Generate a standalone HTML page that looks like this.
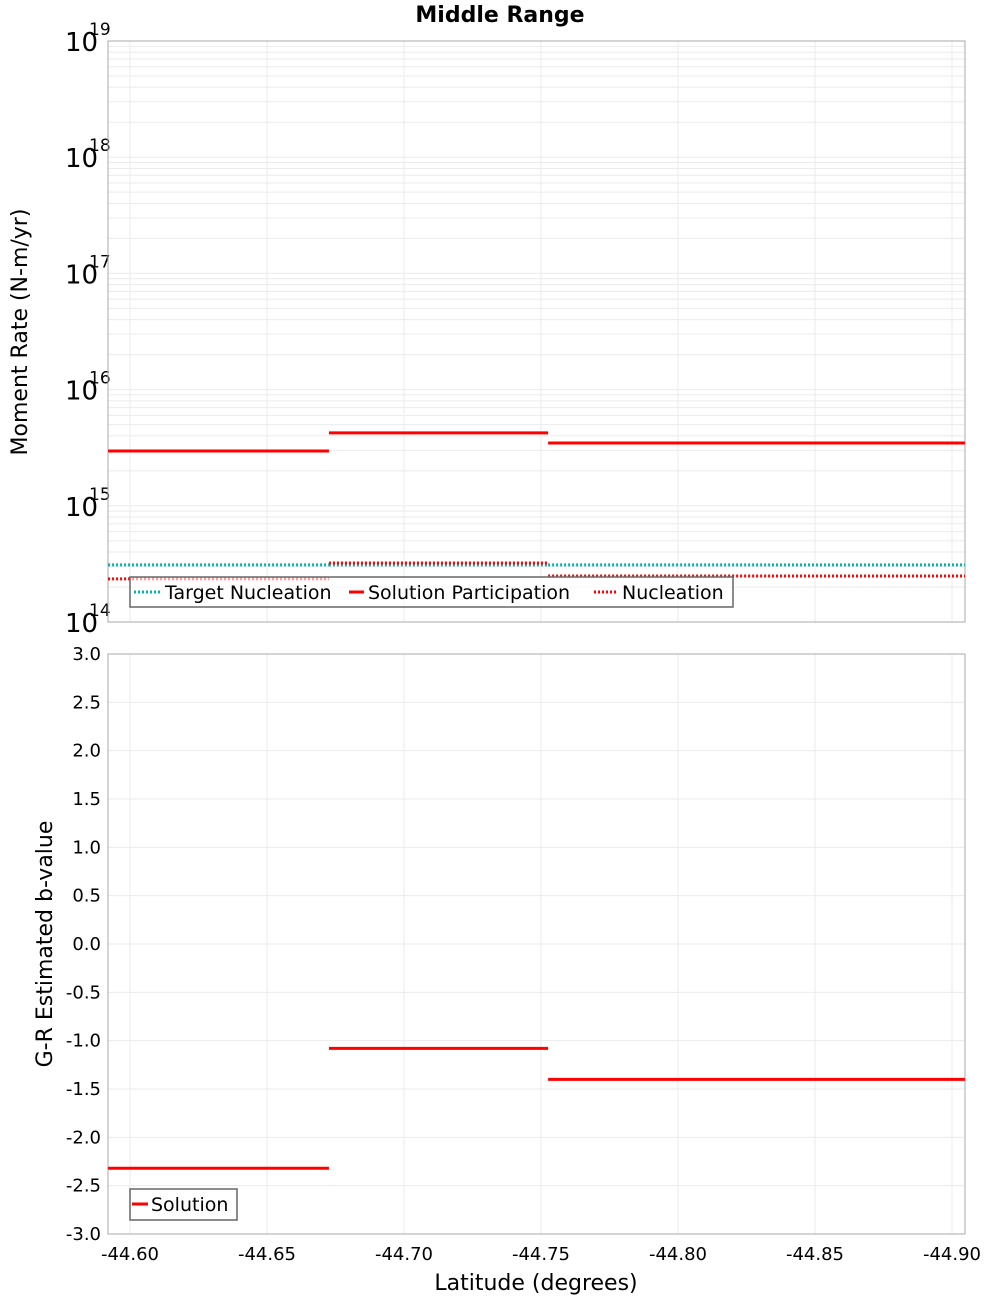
<!DOCTYPE html>
<html><head><meta charset="utf-8"><style>
html,body{margin:0;padding:0;background:#fff;}
svg{display:block;font-family:"DejaVu Sans","Liberation Sans",sans-serif;}
</style></head><body>
<svg id="chart" width="1000" height="1300" xmlns="http://www.w3.org/2000/svg">
<text x="500" y="22" text-anchor="middle" font-size="22" font-weight="bold">Middle Range</text>
<g id="topg"></g>
<g id="botg"></g>
<text transform="translate(27,332) rotate(-90)" text-anchor="middle" font-size="22">Moment Rate (N-m/yr)</text>
<text transform="translate(52,944) rotate(-90)" text-anchor="middle" font-size="22">G-R Estimated b-value</text>
<text x="536" y="1290" text-anchor="middle" font-size="22">Latitude (degrees)</text>
</svg>
<script>
const segEdges = [-44.592, -44.6726, -44.7526, -44.8343, -44.9047];
const participation = [2.96e15, 4.24e15, 3.47e15, 3.47e15];
const targetNucleation = [3.1e14, 3.1e14, 3.1e14, 3.1e14];
const nucleation = [2.35e14, 3.22e14, 2.49e14, 2.49e14];
const bValues = [-2.32, -1.08, -1.40, -1.40];
const xTicks = [-44.60, -44.65, -44.70, -44.75, -44.80, -44.85, -44.90];
const bTicks = [3.0,2.5,2.0,1.5,1.0,0.5,0.0,-0.5,-1.0,-1.5,-2.0,-2.5,-3.0];
const logTicks = [14,15,16,17,18,19];

const NS="http://www.w3.org/2000/svg";
const L=108,R=965;
const xS=v=>130+(v-(-44.60))/(-0.05)*137;
const yTop=v=>622-(Math.log10(v)-14)*116.2;
const yBot=v=>654+(3-v)/6*580;
function mk(p,tag,attrs){const e=document.createElementNS(NS,tag);for(const k in attrs)e.setAttribute(k,attrs[k]);p.appendChild(e);return e;}
const topG=document.getElementById('topg'), botG=document.getElementById('botg');

for(let d=14;d<19;d++)for(let m=1;m<10;m++){const y=yTop(m*Math.pow(10,d));
 const g=mk(topG,'line',{x1:L,x2:R,y1:y,y2:y,stroke:'#ebebeb','stroke-width':1});
 
 }
for(const t of xTicks){const x=xS(t);
 const g=mk(topG,'line',{x1:x,x2:x,y1:41,y2:622,stroke:'#ebebeb'});
 
 
 const g2=mk(botG,'line',{x1:x,x2:x,y1:654,y2:1234,stroke:'#ebebeb'});
 
 
 const tl=mk(botG,'text',{x:x,y:1260,'text-anchor':'middle','font-size':18});
 tl.textContent=t.toFixed(2);
 
 }
for(const t of bTicks){const y=yBot(t);
 const g=mk(botG,'line',{x1:L,x2:R,y1:y,y2:y,stroke:'#ebebeb'});
 
 
 const tl=mk(botG,'text',{x:101,y:y+6,'text-anchor':'end','font-size':18});
 tl.textContent=t.toFixed(1);
 
 }
for(const d of logTicks){const y=yTop(Math.pow(10,d));
 const tl=mk(topG,'text',{x:65,y:y+10,'font-size':26});
 tl.textContent='10';
 
 
 const ex=mk(topG,'text',{x:89,y:y-6,'font-size':17});
 ex.textContent=String(d);
 
 }
const f1=mk(topG,'rect',{x:L,y:41,width:R-L,height:581,fill:'none',stroke:'#a8a8a8'});


const f2=mk(botG,'rect',{x:L,y:654,width:R-L,height:580,fill:'none',stroke:'#a8a8a8'});



for(let i=0;i<4;i++){const x1=xS(segEdges[i]),x2=xS(segEdges[i+1]);
 const a=mk(topG,'line',{x1:x1,x2:x2,y1:yTop(targetNucleation[i]),y2:yTop(targetNucleation[i]),stroke:'#00b4b4','stroke-width':3,'stroke-dasharray':'2,2'});
 
 
 const b=mk(topG,'line',{x1:x1,x2:x2,y1:yTop(nucleation[i]),y2:yTop(nucleation[i]),stroke:'#ff0000','stroke-width':3,'stroke-dasharray':'2,2'});
 
 
 const c=mk(topG,'line',{x1:x1,x2:x2,y1:yTop(participation[i]),y2:yTop(participation[i]),stroke:'#ff0000','stroke-width':3});
 
 
 const d=mk(botG,'line',{x1:x1,x2:x2,y1:yBot(bValues[i]),y2:yBot(bValues[i]),stroke:'#ff0000','stroke-width':3});
 
 }

const lg=mk(topG,'g',{});


mk(lg,'rect',{x:130,y:577,width:603,height:30,fill:'rgba(255,255,255,0.6)',stroke:'#666','stroke-width':1.5});
mk(lg,'line',{x1:134,x2:160,y1:592,y2:592,stroke:'#00b4b4','stroke-width':3,'stroke-dasharray':'2,2'});
let t=mk(lg,'text',{x:165,y:599,'font-size':19});t.textContent='Target Nucleation';
mk(lg,'line',{x1:349,x2:364,y1:592,y2:592,stroke:'#ff0000','stroke-width':3});
t=mk(lg,'text',{x:368,y:599,'font-size':19});t.textContent='Solution Participation';
mk(lg,'line',{x1:594,x2:618,y1:592,y2:592,stroke:'#ff0000','stroke-width':3,'stroke-dasharray':'2,2'});
t=mk(lg,'text',{x:622,y:599,'font-size':19});t.textContent='Nucleation';
const lg2=mk(botG,'g',{});


mk(lg2,'rect',{x:130,y:1189,width:107,height:31,fill:'#fff',stroke:'#666','stroke-width':1.5});
mk(lg2,'line',{x1:132,x2:148,y1:1204,y2:1204,stroke:'#ff0000','stroke-width':3});
t=mk(lg2,'text',{x:151,y:1211,'font-size':19});t.textContent='Solution';
</script>
</body></html>
